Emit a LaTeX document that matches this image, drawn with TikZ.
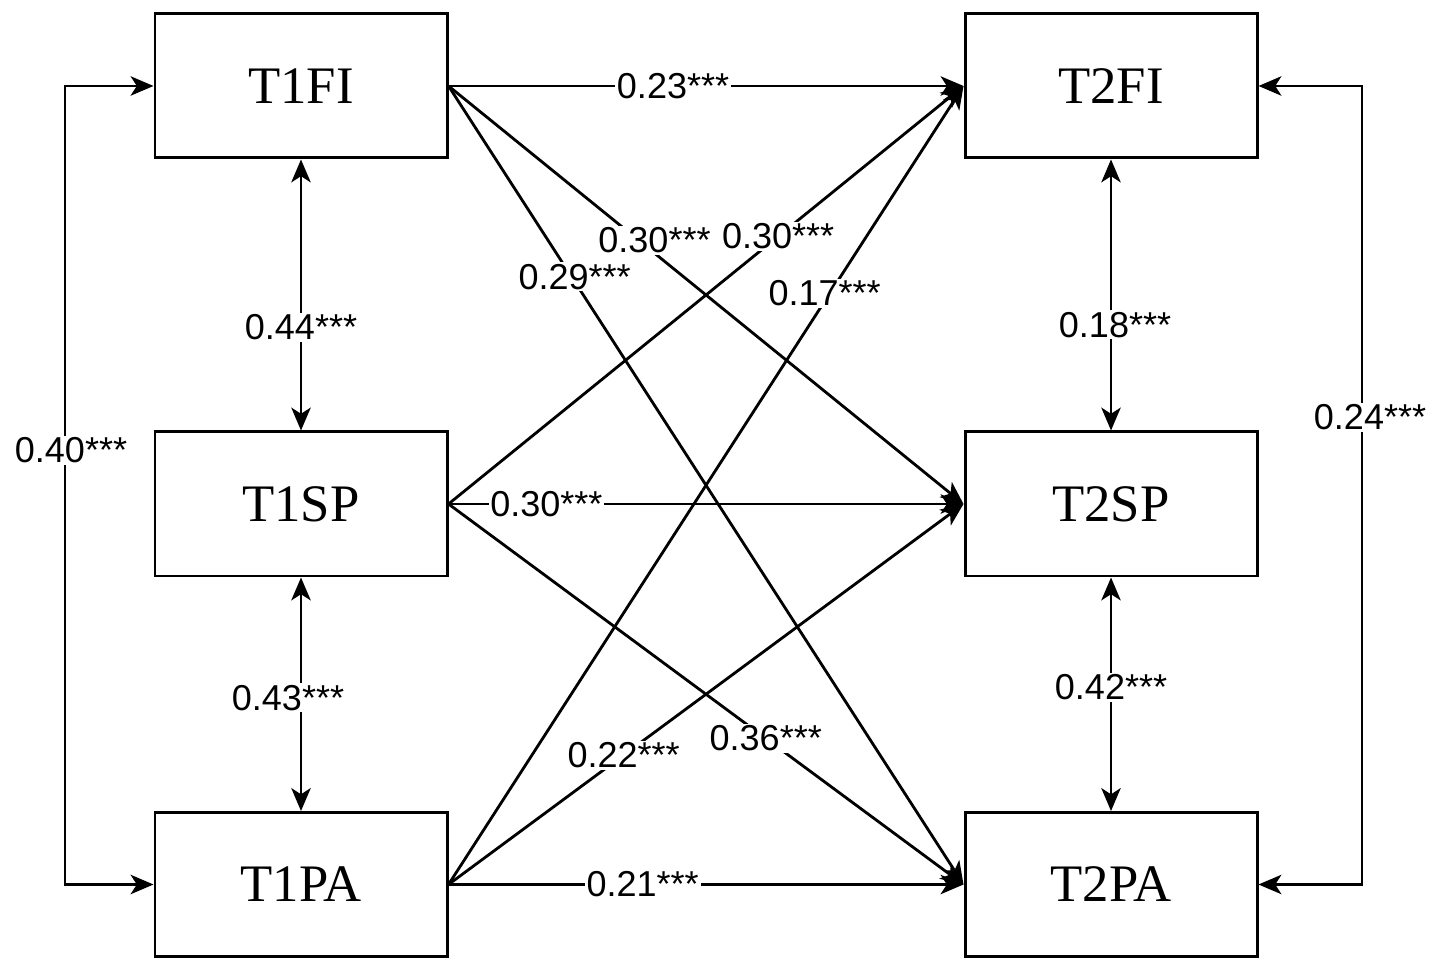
\documentclass[tikz,border=0pt]{standalone}
\usepackage{fontspec}
\setmainfont{Liberation Serif}
\setsansfont{Liberation Sans}
\usetikzlibrary{arrows.meta}

\begin{document}
\begin{tikzpicture}[->,>={Stealth[length=13pt,width=11pt,inset=3.5pt]},shorten >=0pt,
                    line width=1.6pt,
                    main node/.style={draw,line width=1.7pt,minimum width=5.84cm,minimum height=2.88cm,
                                      inner sep=0pt,font=\fontsize{30}{30}\selectfont},
                    coef node/.style={fill=white,inner sep=1pt,font=\sffamily\fontsize{20.5}{20.5}\selectfont}]
  \useasboundingbox (0,0) rectangle (28.82,19.46);
  \node[main node] (1) at (6.02,17.74) {T1FI};
  \node[main node] (2) at (6.02,9.38) {T1SP};
  \node[main node] (3) at (6.02,1.77) {T1PA};
  \node[main node] (4) at (22.22,17.74) {T2FI};
  \node[main node] (5) at (22.22,9.38) {T2SP};
  \node[main node] (6) at (22.22,1.77) {T2PA};

  % cross-lagged paths
  \path[every node/.style={coef node}]
    (1.east) edge node [pos=0.436] {0.23***} (4.west)
             edge node [pos=0.40,yshift=0.26cm] {0.30***} (5.west)
             edge node [pos=0.245,yshift=0.1cm] {0.29***} (6.west)
    (2.east) edge node [pos=0.64] {0.30***} (4.west)
             edge node [pos=0.19] {0.30***} (5.west)
             edge node [pos=0.616] {0.36***} (6.west)
    (3.east) edge node [pos=0.74,xshift=-0.1cm] {0.17***} (4.west)
             edge node [pos=0.34] {0.22***} (5.west)
             edge node [pos=0.377] {0.21***} (6.west);

  % correlations
  \path[<->,every node/.style={coef node}]
    (1) edge node [pos=0.62] {0.44***} (2)
    (2) edge node [pos=0.515,xshift=-0.26cm] {0.43***} (3)
    (4) edge node [pos=0.61,xshift=0.08cm] {0.18***} (5)
    (5) edge node [pos=0.47] {0.42***} (6);

  \coordinate (lt) at (1.3,17.74);
  \coordinate (lb) at (1.3,1.77);
  \coordinate (rt) at (27.24,17.74);
  \coordinate (rb) at (27.24,1.77);
  \draw[<->] (1.west) -- (lt) -- node[coef node,pos=0.456,xshift=0.12cm] {0.40***} (lb) -- (3.west);
  \draw[<->] (4.east) -- (rt) -- node[coef node,pos=0.415,xshift=0.16cm] {0.24***} (rb) -- (6.east);
\end{tikzpicture}
\end{document}
